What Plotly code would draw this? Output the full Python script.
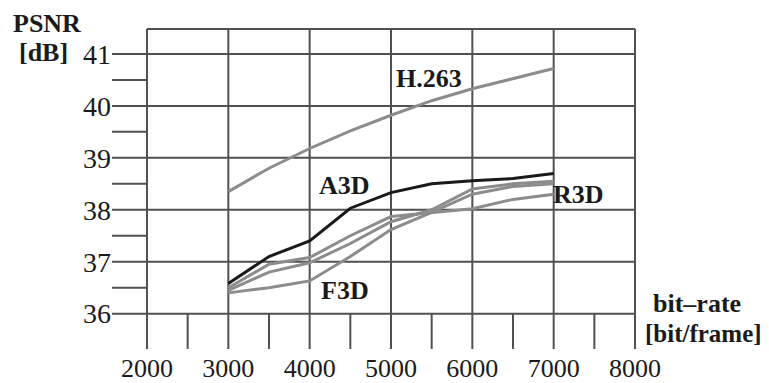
import plotly.graph_objects as go

bitrate = [3000, 3500, 4000, 4500, 5000, 5500, 6000, 6500, 7000]
h263 = [38.35, 38.8, 39.18, 39.52, 39.82, 40.1, 40.33, 40.53, 40.72]
a3d = [36.58, 37.1, 37.4, 38.03, 38.33, 38.5, 38.56, 38.6, 38.7]
r3d = [36.5, 36.95, 37.08, 37.5, 37.87, 37.95, 38.02, 38.2, 38.3]
g3d = [36.45, 36.8, 36.98, 37.35, 37.77, 38.0, 38.4, 38.5, 38.55]
f3d = [36.4, 36.5, 36.63, 37.1, 37.62, 37.95, 38.3, 38.45, 38.5]

x_ticks = [2000, 3000, 4000, 5000, 6000, 7000, 8000]
x_minor = [2500, 3500, 4500, 5500, 6500, 7500]
y_ticks = [36, 37, 38, 39, 40, 41]
y_minor = [36.5, 37.5, 38.5, 39.5, 40.5]

X_LO, X_HI = 1570, 8430
Y_LO, Y_HI = 35.3, 41.5
Y_TOP = 41.48
Y_BOT = 35.32

GRID = "#505050"
GREY = "#8c8c8c"
FONT = "Liberation Serif"

fig = go.Figure()

shapes = []
for xv in x_ticks:
    shapes.append(dict(type="line", xref="x", yref="y", x0=xv, x1=xv, y0=Y_BOT, y1=Y_TOP,
                       line=dict(color=GRID, width=2), layer="below"))
for xv in x_minor:
    shapes.append(dict(type="line", xref="x", yref="y", x0=xv, x1=xv, y0=Y_BOT, y1=y_ticks[0],
                       line=dict(color=GRID, width=2), layer="below"))
for yv in y_ticks:
    shapes.append(dict(type="line", xref="x", yref="y", x0=X_LO, x1=x_ticks[-1], y0=yv, y1=yv,
                       line=dict(color=GRID, width=2), layer="below"))
for yv in y_minor:
    shapes.append(dict(type="line", xref="x", yref="y", x0=X_LO, x1=x_ticks[0], y0=yv, y1=yv,
                       line=dict(color=GRID, width=2), layer="below"))
shapes.append(dict(type="line", xref="x", yref="y", x0=x_ticks[0], x1=x_ticks[-1], y0=Y_TOP, y1=Y_TOP,
                   line=dict(color=GRID, width=2), layer="below"))

for name, ys, col in [("H.263", h263, GREY), ("R3D", r3d, GREY), ("G3D", g3d, GREY),
                      ("F3D", f3d, GREY), ("A3D", a3d, "#1a1a1a")]:
    fig.add_trace(go.Scatter(x=bitrate, y=ys, mode="lines", name=name,
                             line=dict(color=col, width=3), showlegend=False,
                             hoverinfo="skip"))

ann_font = dict(family=FONT, size=26, color="#1a1a1a")
ann_font_s = dict(family=FONT, size=25, color="#1a1a1a")
annotations = [
    dict(text="<b>H.263</b>", x=5470, y=40.53, xref="x", yref="y", showarrow=False, font=ann_font),
    dict(text="<b>A3D</b>", x=4430, y=38.47, xref="x", yref="y", showarrow=False, font=ann_font),
    dict(text="<b>R3D</b>", x=7310, y=38.3, xref="x", yref="y", showarrow=False, font=ann_font),
    dict(text="<b>F3D</b>", x=4430, y=36.45, xref="x", yref="y", showarrow=False, font=ann_font),
    dict(text="<b>PSNR</b>", x=47, y=24, xref="paper", yref="paper", showarrow=False, font=ann_font),
    dict(text="<b>[dB]</b>", x=43, y=53, xref="paper", yref="paper", showarrow=False, font=ann_font),
    dict(text="<b>bit–rate</b>", x=697, y=303, xref="paper", yref="paper", showarrow=False, font=ann_font),
    dict(text="<b>[bit/frame]</b>", x=703, y=333, xref="paper", yref="paper", showarrow=False, font=ann_font_s),
]
# convert pixel positions (from top-left) for paper-referenced labels
L, R, T, B = 112, 99, 28, 33
W, H = 769, 383
pw, ph = W - L - R, H - T - B
for a in annotations:
    if a["xref"] == "paper":
        a["x"] = (a["x"] - L) / pw
        a["y"] = (H - B - a["y"]) / ph
        a["xanchor"] = "center"
        a["yanchor"] = "middle"

fig.update_layout(
    template="none",
    width=W, height=H,
    margin=dict(l=L, r=R, t=T, b=B, pad=0),
    paper_bgcolor="white", plot_bgcolor="white",
    shapes=shapes, annotations=annotations,
    xaxis=dict(range=[X_LO, X_HI], tickvals=x_ticks, ticktext=[str(v) for v in x_ticks],
               showgrid=False, zeroline=False, showline=False, ticks="", automargin=False,
               tickfont=dict(family=FONT, size=26, color="#1a1a1a")),
    yaxis=dict(range=[Y_LO, Y_HI], tickvals=y_ticks, ticktext=[str(v) for v in y_ticks],
               showgrid=False, zeroline=False, showline=False, ticks="", automargin=False,
               tickfont=dict(family=FONT, size=28, color="#1a1a1a")),
)

fig.write_html("out.html", config={"displayModeBar": False},
               post_script="document.body.style.margin='0';document.body.style.padding='0';document.body.style.overflow='hidden';")
